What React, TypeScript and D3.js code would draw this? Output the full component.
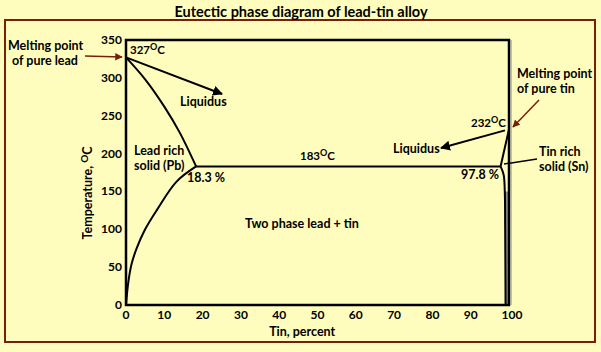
import React from 'react';
import * as d3 from 'd3';

// tin percent vs temperature (°C)
const liquidusLeft: [number, number][] = [[0, 327], [5, 298], [10, 262], [14, 228], [18.3, 183]];
const solidusLeft: [number, number][] = [[0, 0], [0.6, 30], [1.5, 55], [2.8, 75], [5, 100], [8, 125], [13.2, 163], [18.3, 183]];
const eutecticLine: [number, number][] = [[18.3, 183], [97.8, 183]];
const liquidusRight: [number, number][] = [[97.8, 183], [100, 232]];
const solvusRight: [number, number][] = [[97.8, 183], [98.6, 172], [98.9, 150], [99.0, 100], [99.1, 0]];
const xTicks = [0, 10, 20, 30, 40, 50, 60, 70, 80, 90, 100];
const yTicks = [0, 50, 100, 150, 200, 250, 300, 350];

const FONT = 'Lato, "Open Sans", sans-serif';
const BROWN = '#7a1e0c';
const FS = 12.5;

const Deg = ({ x, y, v }: { x: number; y: number; v: string }) => (
  <text x={x} y={y} fontSize={11.5} fontWeight="bold">
    {v}
    <tspan fontSize={9} dy={-4}>O</tspan>
    <tspan dy={4}>C</tspan>
  </text>
);

const App = () => {
  const x = d3.scaleLinear().domain([0, 100]).range([126, 509]);
  const y = d3.scaleLinear().domain([0, 350]).range([305, 40]);
  const curve = d3.line<[number, number]>().x(d => x(d[0])).y(d => y(d[1])).curve(d3.curveCatmullRom);
  const straight = d3.line<[number, number]>().x(d => x(d[0])).y(d => y(d[1]));

  const grayArea: [number, number][] = [...solvusRight.slice(2), [100, 0], [100, 150]];

  return (
    <svg width={601} height={352} style={{ position: 'absolute', left: 0, top: 0 }} fontFamily={FONT}>
      <defs>
        <marker id="ab" viewBox="0 0 10 10" refX="9" refY="5" markerWidth="5" markerHeight="5" orient="auto">
          <path d="M0,0 L10,5 L0,10 z" fill="#000" />
        </marker>
        <marker id="ar" viewBox="0 0 10 10" refX="9" refY="5" markerWidth="5" markerHeight="5" orient="auto">
          <path d="M0,0 L10,5 L0,10 z" fill={BROWN} />
        </marker>
      </defs>
      <rect x={0} y={0} width={601} height={352} fill="#fffdbd" />
      <rect x={5} y={20} width={590} height={322} fill="none" stroke={BROWN} strokeWidth={2} />
      <text x={301} y={17} textAnchor="middle" fontSize={14.5} fontWeight="bold">
        Eutectic phase diagram of lead-tin alloy
      </text>

      {/* gray Sn-rich sliver */}
      <path d={straight(grayArea) + 'Z'} fill="#8c8c8c" />

      {/* frame */}
      <rect x={x(0)} y={y(350)} width={x(100) - x(0)} height={y(0) - y(350)} fill="none" stroke="#000" strokeWidth={2.5} />
      <line x1={x(100) + 2} x2={x(100) + 2} y1={y(350)} y2={y(0)} stroke="#999" strokeWidth={1.2} />

      {/* phase boundaries */}
      <path d={curve(liquidusLeft)!} fill="none" stroke="#000" strokeWidth={2} />
      <path d={curve(solidusLeft)!} fill="none" stroke="#000" strokeWidth={2} />
      <path d={straight(eutecticLine)!} fill="none" stroke="#000" strokeWidth={2} />
      <path d={straight(liquidusRight)!} fill="none" stroke="#000" strokeWidth={2} />
      <path d={curve(solvusRight)!} fill="none" stroke="#000" strokeWidth={2} />

      {/* y axis */}
      {yTicks.map(t => (
        <text key={t} x={x(0) - 4} y={y(t) + 4} textAnchor="end" fontSize={12} fontWeight="bold">{t}</text>
      ))}
      <text transform={`translate(92,${y(148)}) rotate(-90)`} textAnchor="middle" fontSize={FS} fontWeight="bold">
        Temperature, <tspan fontSize={10} dy={-4}>O</tspan><tspan dy={4}>C</tspan>
      </text>

      {/* x axis */}
      {xTicks.map(t => (
        <text key={t} x={x(t) + (t === 100 ? 3 : 0)} y={319} textAnchor="middle" fontSize={12} fontWeight="bold">{t}</text>
      ))}
      <text x={x(46)} y={336} textAnchor="middle" fontSize={FS} fontWeight="bold">Tin, percent</text>

      {/* left annotations */}
      <text x={8} y={50} fontSize={FS} fontWeight="bold">Melting point</text>
      <text x={12} y={65} fontSize={FS} fontWeight="bold">of pure lead</text>
      <line x1={85} y1={56} x2={122} y2={57} stroke={BROWN} strokeWidth={1.5} markerEnd="url(#ar)" />
      <Deg x={130} y={54} v="327" />
      <line x1={x(0)} y1={y(327)} x2={222} y2={94} stroke="#000" strokeWidth={2} markerEnd="url(#ab)" />
      <text x={180} y={106} fontSize={FS} fontWeight="bold">Liquidus</text>
      <text x={134} y={155} fontSize={FS} fontWeight="bold">Lead rich</text>
      <text x={134} y={170} fontSize={FS} fontWeight="bold">solid (Pb)</text>
      <text x={187} y={182} fontSize={FS} fontWeight="bold">18.3 %</text>
      <Deg x={300} y={160} v="183" />
      <text x={245} y={228} fontSize={FS} fontWeight="bold">Two phase lead + tin</text>

      {/* right annotations */}
      <text x={517} y={78} fontSize={FS} fontWeight="bold">Melting point</text>
      <text x={517} y={93} fontSize={FS} fontWeight="bold">of pure tin</text>
      <line x1={539} y1={100} x2={513} y2={127} stroke={BROWN} strokeWidth={1.5} markerEnd="url(#ar)" />
      <Deg x={471} y={127} v="232" />
      <line x1={x(100) - 4} y1={y(232) + 1} x2={441} y2={148} stroke="#000" strokeWidth={2} markerEnd="url(#ab)" />
      <text x={393} y={153} fontSize={FS} fontWeight="bold">Liquidus</text>
      <text x={499} y={179} textAnchor="end" fontSize={FS} fontWeight="bold">97.8 %</text>
      <line x1={537} y1={159} x2={504} y2={164} stroke="#000" strokeWidth={1.5} />
      <text x={539} y={156} fontSize={FS} fontWeight="bold">Tin rich</text>
      <text x={539} y={171} fontSize={FS} fontWeight="bold">solid (Sn)</text>
    </svg>
  );
};

export default App;
